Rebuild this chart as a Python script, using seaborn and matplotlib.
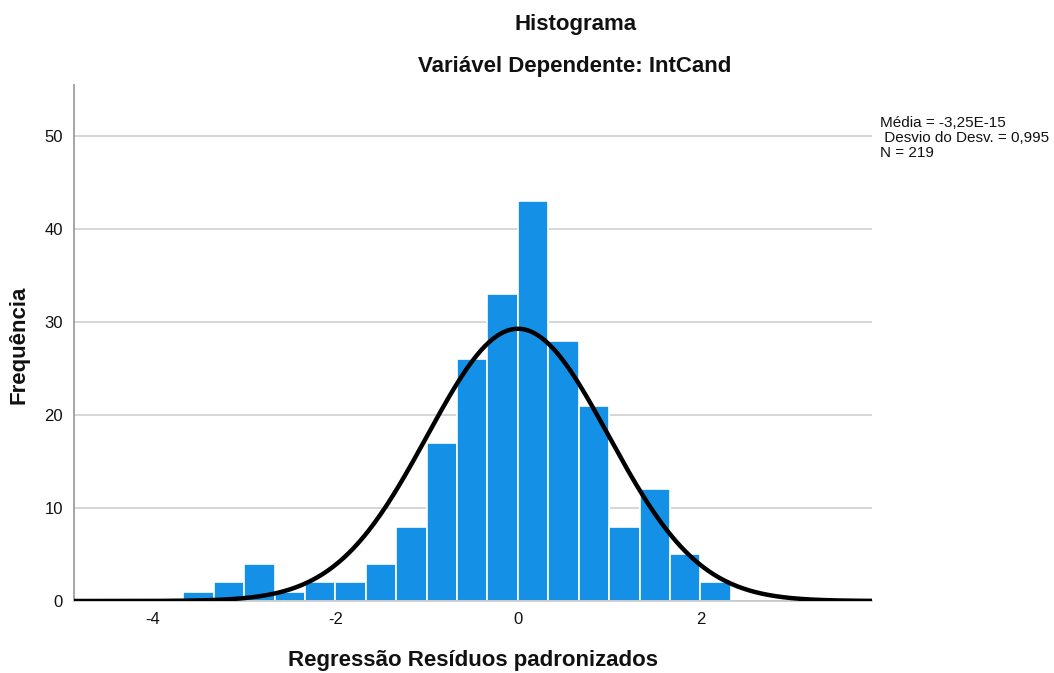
import numpy as np
import pandas as pd
import matplotlib.pyplot as plt
import seaborn as sns

# histogram bins (width 1/3) and counts
bin_edges = [i / 3.0 for i in range(-11, 8)]
counts = [1, 2, 4, 1, 2, 2, 4, 8, 17, 26, 33, 43, 28, 21, 8, 12, 5, 2]
mean_val = -3.25e-15
sd_val = 0.995
n_obs = 219

sns.set_theme(style="white")
plt.rcParams['font.family'] = ['Liberation Sans', 'DejaVu Sans']
plt.rcParams['axes.unicode_minus'] = False

edges = np.array(bin_edges)
centers = (edges[:-1] + edges[1:]) / 2
df = pd.DataFrame({'x': centers, 'w': counts})

fig = plt.figure(figsize=(10.54, 6.73), dpi=100)
ax = fig.add_axes([0.0702, 0.107, 0.757, 0.767])

ax.grid(axis='y', color='#d0d0d0', linewidth=1.2, zorder=0)
ax.set_axisbelow(True)
sns.histplot(data=df, x='x', weights='w', bins=bin_edges, ax=ax,
             color='#1491e6', edgecolor='white', linewidth=1.2, alpha=1, zorder=2)

# fitted normal curve
xs = np.linspace(-4.9, 3.9, 400)
width = edges[1] - edges[0]
ys = n_obs * width * np.exp(-0.5 * ((xs - mean_val) / sd_val) ** 2) / (sd_val * np.sqrt(2 * np.pi))
sns.lineplot(x=xs, y=ys, ax=ax, color='black', linewidth=3.2, zorder=3)

ax.set_xlim(-4.866, 3.88)
ax.set_ylim(0, 55.5)
ax.set_xticks([-4, -2, 0, 2])
ax.set_yticks([0, 10, 20, 30, 40, 50])
ax.tick_params(labelsize=12, length=0, pad=8, colors='#111111')
for s in ['top', 'right']:
    ax.spines[s].set_visible(False)
ax.spines['left'].set_color('#9a9a9a')
ax.spines['bottom'].set_color('#c8c8c8')
ax.set_xlabel('')
ax.set_ylabel('')

fig.text(0.449, 0.019, 'Regressão Resíduos padronizados', ha='center', va='center',
         fontsize=16, fontweight='bold', color='#111111')
fig.text(0.018, 0.487, 'Frequência', ha='center', va='center', rotation=90,
         fontsize=16, fontweight='bold', color='#111111')
fig.text(0.546, 0.963, 'Histograma', ha='center', va='center', fontsize=16, fontweight='bold', color='#111111')
fig.text(0.545, 0.901, 'Variável Dependente: IntCand', ha='center', va='center', fontsize=16, fontweight='bold', color='#111111')
fig.text(0.835, 0.795, 'Média = -3,25E-15\n Desvio do Desv. = 0,995\nN = 219',
         ha='left', va='center', fontsize=11, linespacing=1.05, color='#111111')

fig.savefig('out.png', dpi=100, facecolor='white')
